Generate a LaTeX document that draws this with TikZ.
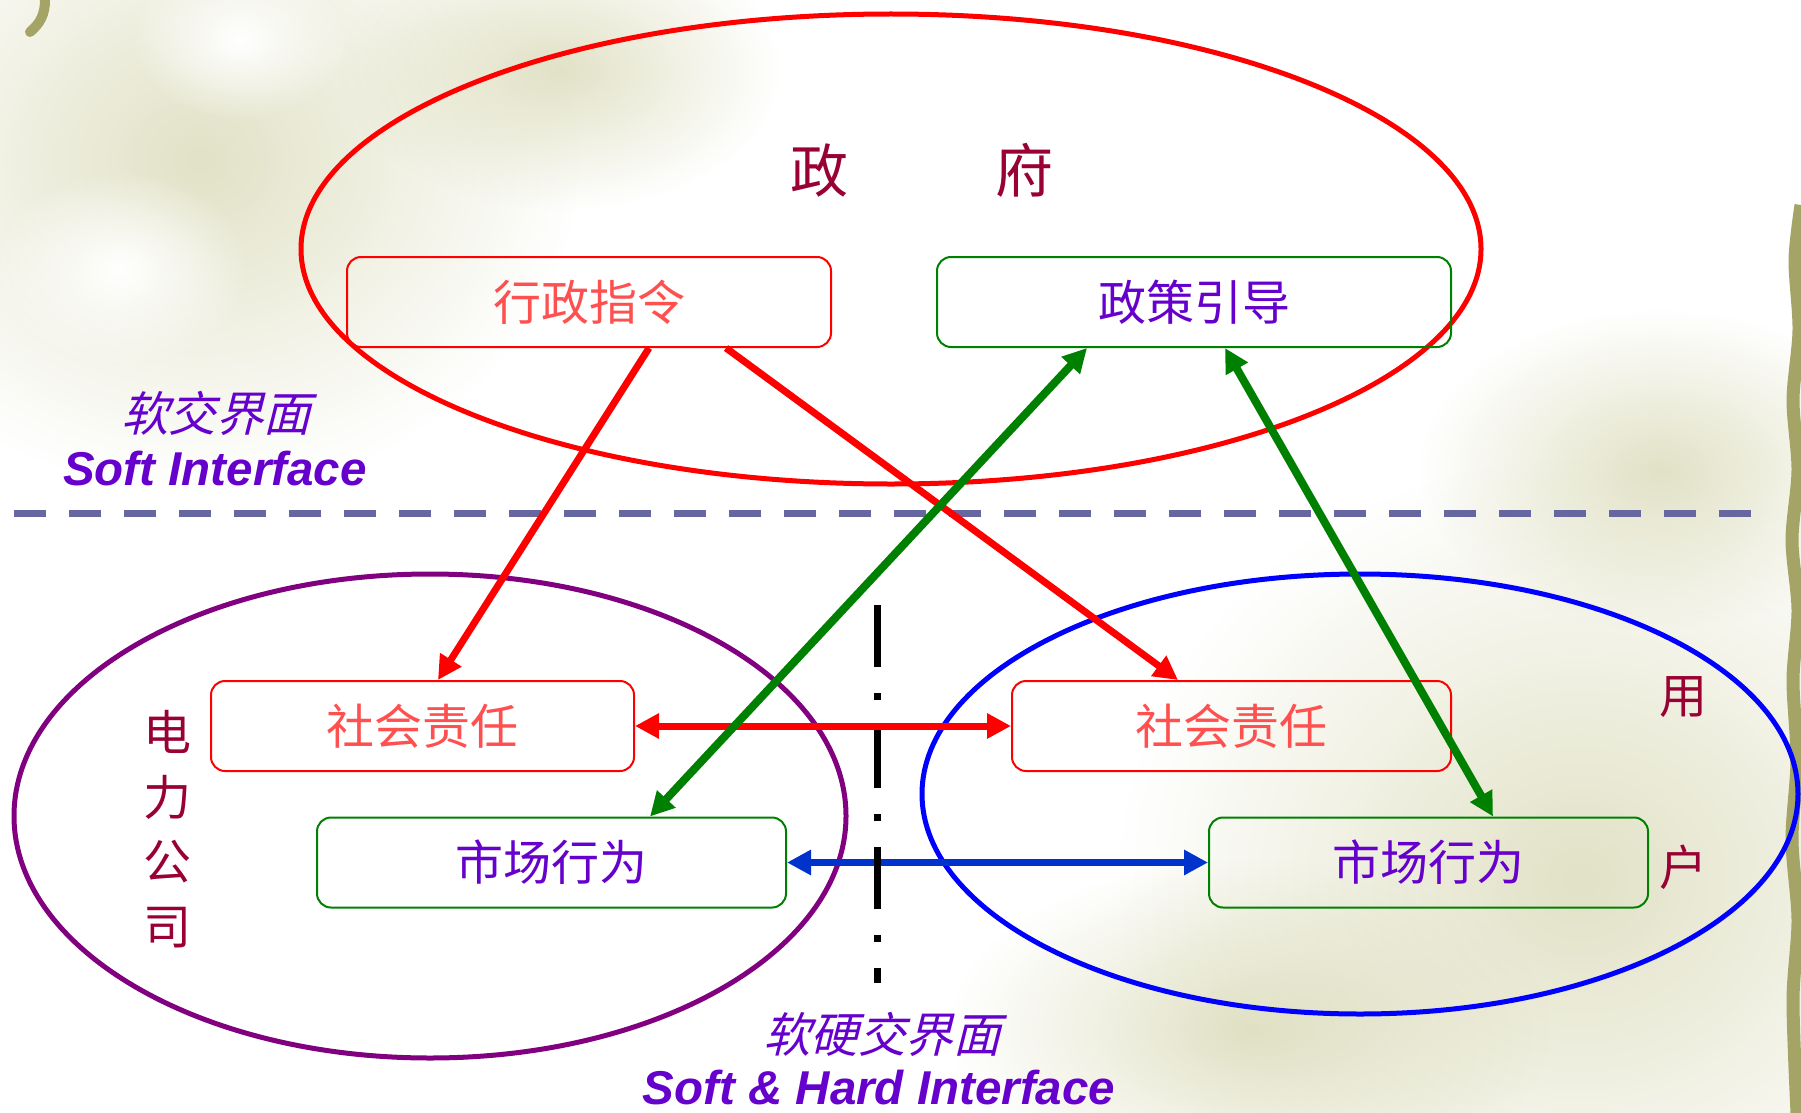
\documentclass[tikz,border=0pt]{standalone}
\usepackage{fontspec}
\setmainfont{Liberation Sans}
\newfontfamily\cjk{Noto Sans CJK SC}
\newfontfamily\cjkit[FakeSlant=0.25]{Noto Sans CJK SC}
\usetikzlibrary{arrows.meta,fadings}
\definecolor{govred}{HTML}{FF0000}
\definecolor{boxred}{HTML}{FF0000}
\definecolor{txtred}{HTML}{FF5050}
\definecolor{grn}{HTML}{008000}
\definecolor{txtpur}{HTML}{6600CC}
\definecolor{titlered}{HTML}{990033}
\definecolor{elpurple}{HTML}{800080}
\definecolor{elblue}{HTML}{0000FF}
\definecolor{arrblue}{HTML}{0033CC}
\definecolor{dashgray}{HTML}{6666A0}
\definecolor{beige}{HTML}{D8D8B4}
\definecolor{vine}{HTML}{A3A466}
\tikzfading[name=softfade, inner color=transparent!0, outer color=transparent!100]
\tikzset{
  box/.style={rounded corners=14pt, line width=2pt, minimum height=90pt, inner sep=0pt,
    font=\cjk\fontsize{48}{58}\selectfont},
  redbox/.style={box, draw=boxred, text=txtred},
  greenbox/.style={box, draw=grn, text=txtpur},
  ring/.style={line width=5pt},
  conn/.style={line width=7pt, >={Triangle[length=24pt,width=24pt]}},
  cjklabel/.style={font=\cjk\fontsize{48}{64.7}\selectfont, text=titlered, align=center, inner sep=0pt},
  itlabel/.style={font=\cjkit\fontsize{47.5}{56}\selectfont, text=txtpur, inner sep=0pt},
  enlabel/.style={font=\fontsize{47.5}{56}\selectfont\bfseries\itshape, text=txtpur, inner sep=0pt},
  blob/.style={fill=beige, path fading=softfade, fill opacity=0.75}
}
\begin{document}
\begin{tikzpicture}[x=1pt,y=-1pt]
\useasboundingbox (0,0) rectangle (1801,1113);
\fill[white] (0,0) rectangle (1801,1113);

% background decoration
\fill[blob] (200,160) ellipse [x radius=380pt, y radius=330pt];
\fill[blob] (560,70) ellipse [x radius=220pt, y radius=140pt];
\fill[blob] (1580,880) ellipse [x radius=460pt, y radius=420pt];
\fill[blob] (1250,1030) ellipse [x radius=300pt, y radius=170pt];
\fill[blob] (1660,470) ellipse [x radius=240pt, y radius=160pt];
\fill[white, path fading=softfade] (240,40) ellipse [x radius=110pt, y radius=80pt];
\fill[white, path fading=softfade] (120,270) ellipse [x radius=130pt, y radius=100pt];
\draw[vine, line width=10pt, line cap=round] (45,0) to[out=-90,in=40] (30,32);
\draw[vine, line width=13pt] plot[smooth] coordinates {(1801,205) (1795,260) (1799,330) (1793,400) (1798,470) (1792,540) (1798,610) (1793,680) (1797,760) (1792,840) (1798,920) (1793,1000) (1797,1113)};

% ellipses
\draw[ring, govred] (891,249) ellipse [x radius=590pt, y radius=235pt];
\draw[ring, elpurple] (430,816) ellipse [x radius=416pt, y radius=242pt];
\draw[ring, elblue] (1360,794) ellipse [x radius=438pt, y radius=220pt];

% separators
\draw[line width=7pt, dashgray, dash pattern=on 32pt off 23pt] (14,513) -- (1754,513);

% titles
\node[font=\cjk\fontsize{58}{64}\selectfont, text=titlered, inner sep=0pt] (gov) at (922,170) {政\hspace{148pt}府};
\node[cjklabel] (dlgs) at (167,829) {电\\力\\公\\司};
\node[cjklabel, font=\cjk\fontsize{48}{172}\selectfont] (yh) at (1683,783) {用\\户};

% boxes
\node[redbox, minimum width=484pt] (xz) at (589,302) {行政指令};
\node[greenbox, minimum width=514pt] (zc) at (1194,302) {政策引导};
\node[redbox, minimum width=423pt] (sh1) at (422.5,726) {社会责任};
\node[greenbox, minimum width=469pt] (sc1) at (551.5,862.5) {市场行为};
\node[redbox, minimum width=439pt] (sh2) at (1231.5,726) {社会责任};
\node[greenbox, minimum width=439pt] (sc2) at (1428.5,862.5) {市场行为};

% interface labels
\node[itlabel] (si1) at (216,413) {软交界面};
\node[enlabel] (si2) at (215,469) {Soft Interface};
\node[itlabel] (sh1l) at (882,1034) {软硬交界面};
\node[enlabel] (sh2l) at (879,1088) {Soft \& Hard Interface};

% connectors
\draw[conn, arrblue, <->] (sc1.east) -- (sc2.west);
\draw[line width=7pt, black, dash pattern=on 62pt off 26pt on 7pt off 26pt] (877,605) coordinate (dd1) -- (877,983) coordinate (dd2);
\draw[conn, govred, <->] (sh1.east) -- (sh2.west);
\draw[conn, govred, ->] ([xshift=60pt]xz.south) -- ([xshift=15.5pt]sh1.north);
\draw[conn, govred, ->] ([xshift=137pt]xz.south) -- ([xshift=-53.5pt]sh2.north);
\draw[conn, line width=8pt, grn, <->] ([xshift=-107pt]zc.south) -- ([xshift=98.5pt]sc1.north);
\draw[conn, line width=8pt, grn, <->] ([xshift=31pt]zc.south) -- ([xshift=64.5pt]sc2.north);
\end{tikzpicture}
\end{document}
